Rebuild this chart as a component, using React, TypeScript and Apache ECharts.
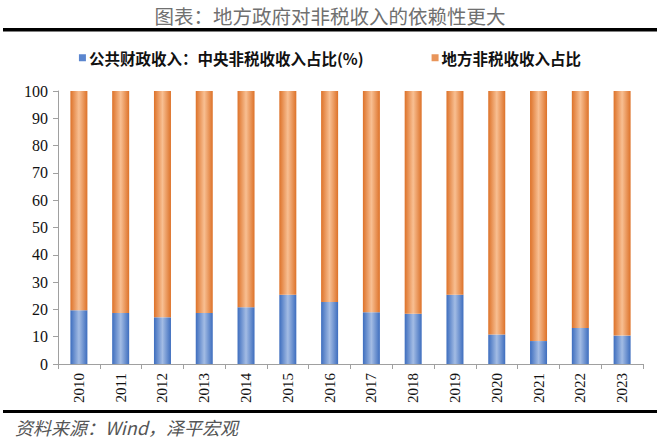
import React, { useEffect, useRef } from "react";
import * as echarts from "echarts";

const years = ["2010", "2011", "2012", "2013", "2014", "2015", "2016", "2017", "2018", "2019", "2020", "2021", "2022", "2023"];
const centralShare = [19.7, 18.7, 17.1, 18.7, 20.8, 25.4, 22.7, 19.0, 18.4, 25.4, 10.8, 8.4, 13.2, 10.4];
const localShare = [80.3, 81.3, 82.9, 81.3, 79.2, 74.6, 77.3, 81.0, 81.6, 74.6, 89.2, 91.6, 86.8, 89.6];
const seriesNames = ["公共财政收入：中央非税收收入占比(%)", "地方非税收收入占比"];
const titleText = "图表：地方政府对非税收入的依赖性更大";
const sourceText = "资料来源：Wind，泽平宏观";

const blueGrad = () =>
  new echarts.graphic.LinearGradient(0, 0, 1, 0, [
    { offset: 0, color: "#3D6DBE" },
    { offset: 0.5, color: "#A3BCE4" },
    { offset: 1, color: "#3D6DBE" },
  ]);
const orangeGrad = () =>
  new echarts.graphic.LinearGradient(0, 0, 1, 0, [
    { offset: 0, color: "#DD7229" },
    { offset: 0.5, color: "#F8BF92" },
    { offset: 1, color: "#DD7229" },
  ]);

export default function App() {
  const ref = useRef<HTMLDivElement>(null);
  useEffect(() => {
    if (!ref.current) return;
    const chart = echarts.init(ref.current, null, { renderer: "svg" });
    chart.setOption({
      animation: false,
      backgroundColor: "#ffffff",
      title: {
        text: titleText,
        left: "center",
        top: 1,
        textStyle: {
          fontFamily: "Noto Sans CJK SC",
          fontSize: 19.5,
          fontWeight: "normal",
          color: "#707070",
        },
      },
      legend: {
        top: 45,
        left: "center",
        itemWidth: 7,
        itemHeight: 7,
        itemGap: 68,
        icon: "rect",
        textStyle: {
          fontFamily: "Noto Sans CJK SC",
          fontSize: 15.5,
          fontWeight: "bold",
          color: "#111",
          padding: [0, 0, 0, -2],
        },
        data: [
          { name: seriesNames[0], itemStyle: { color: "#5B86CF" } },
          { name: seriesNames[1], itemStyle: { color: "#E9955A" } },
        ],
      },
      grid: { left: 58, right: 17, top: 91, bottom: 75, containLabel: false },
      xAxis: {
        type: "category",
        data: years,
        boundaryGap: true,
        axisLine: { show: true, lineStyle: { color: "#a0a0a0", width: 1 } },
        axisTick: { show: true, alignWithLabel: false, length: 5, lineStyle: { color: "#a0a0a0" } },
        axisLabel: {
          rotate: 90,
          interval: 0,
          margin: 9,
          fontFamily: "Liberation Serif",
          fontSize: 15,
          color: "#111",
        },
      },
      yAxis: {
        type: "value",
        min: 0,
        max: 100,
        interval: 10,
        splitLine: { show: false },
        axisLine: { show: true, lineStyle: { color: "#a0a0a0", width: 1 } },
        axisTick: { show: true, length: 5, lineStyle: { color: "#a0a0a0" } },
        axisLabel: {
          margin: 10,
          fontFamily: "Liberation Serif",
          fontSize: 16,
          color: "#111",
        },
      },
      series: [
        {
          name: seriesNames[0],
          type: "bar",
          stack: "total",
          barWidth: 17,
          data: centralShare,
          itemStyle: { color: blueGrad() },
        },
        {
          name: seriesNames[1],
          type: "bar",
          stack: "total",
          barWidth: 17,
          data: localShare,
          itemStyle: { color: orangeGrad() },
        },
      ],
      graphic: [
        { type: "rect", shape: { x: 3, y: 28, width: 654, height: 3.5 }, style: { fill: "#000" } },
        { type: "rect", shape: { x: 3, y: 410, width: 654, height: 3 }, style: { fill: "#000" } },
        {
          type: "text",
          x: 15,
          y: 427,
          style: {
            text: sourceText,
            fontFamily: "Noto Sans CJK SC",
            fontSize: 18,
            fontStyle: "italic",
            fill: "#555",
            verticalAlign: "middle",
          },
        },
      ],
    });
    return () => chart.dispose();
  }, []);
  return (
    <div
      ref={ref}
      style={{ position: "fixed", left: 0, top: 0, width: 660, height: 439, background: "#fff" }}
    />
  );
}
